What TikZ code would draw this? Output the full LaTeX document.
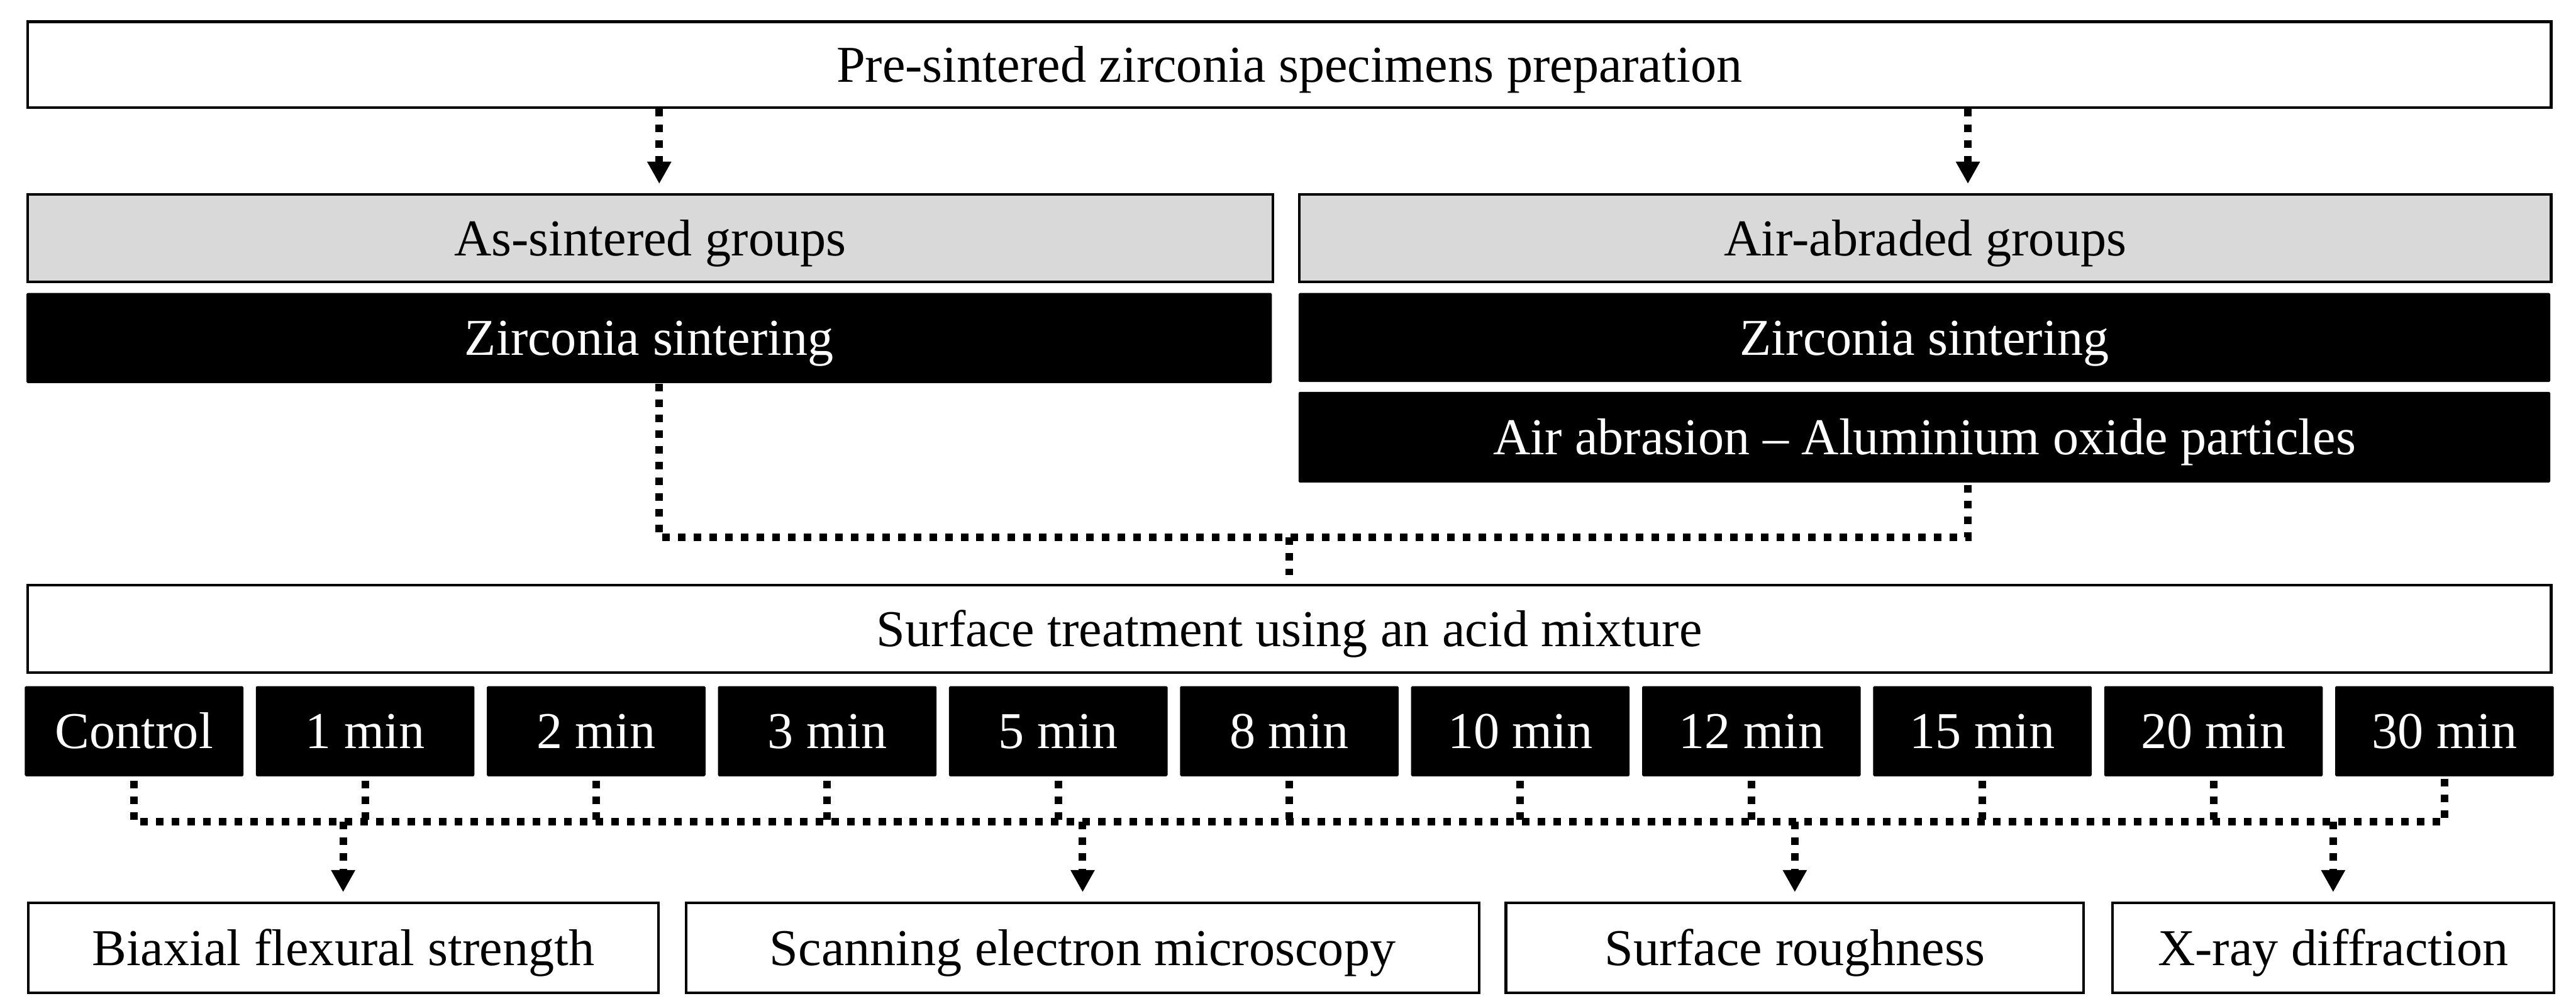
\documentclass[tikz,border=0pt]{standalone}
\usepackage{fontspec}
\setmainfont{Liberation Serif}
\usetikzlibrary{arrows.meta, positioning}

\begin{document}
\begin{tikzpicture}[
    font=\fontsize{25.3}{30}\selectfont,
    plainbox/.style={
        draw,
        line width=0.045cm,
        fill=white,
        inner sep=0pt,
        anchor=north west,
        text height=0.6cm,
        text depth=0pt,
        minimum height=1.5cm
    },
    greybox/.style={
        plainbox,
        fill=black!15
    },
    darkbox/.style={
        fill=black,
        text=white,
        rounded corners=0.02cm,
        inner sep=0pt,
        anchor=north west,
        text height=0.6cm,
        text depth=0pt,
        minimum height=1.55cm
    },
    timebox/.style={
        darkbox,
        minimum width=3.76cm
    },
    flow/.style={
        line width=0.13cm,
        dash pattern=on 0.13cm off 0.14cm
    },
    flowarrow/.style={
        flow,
        -{Triangle[length=0.38cm, width=0.39cm]},
        shorten >=0.16cm
    }
]
\useasboundingbox (0,0) rectangle (44.31,-17.21);

% preparation and the two groups
\node[plainbox, minimum width=43.41cm, minimum height=1.48cm] (prep) at (0.45,-0.35) {Pre-sintered zirconia specimens preparation};

\node[greybox, minimum width=21.42cm] (asgrp) at (0.45,-3.32) {As-sintered groups};
\node[greybox, minimum width=21.53cm] (abgrp) at (22.33,-3.32) {Air-abraded groups};

\node[darkbox, minimum width=21.42cm] (sinterA) at (0.45,-5.03) {Zirconia sintering};
\node[darkbox, minimum width=21.53cm, minimum height=1.53cm] (sinterB) at (22.33,-5.03) {Zirconia sintering};
\node[darkbox, minimum width=21.53cm, minimum height=1.56cm] (abras) at (22.33,-6.73) {Air abrasion -- Aluminium oxide particles};

% acid treatment and times
\node[plainbox, minimum width=43.41cm] (surf) at (0.45,-10.04) {Surface treatment using an acid mixture};

\node[timebox] (t0) at (0.42,-11.79) {Control};
\node[timebox, right=0.2cm of t0] (t1) {1 min};
\node[timebox, right=0.2cm of t1] (t2) {2 min};
\node[timebox, right=0.2cm of t2] (t3) {3 min};
\node[timebox, right=0.2cm of t3] (t4) {5 min};
\node[timebox, right=0.2cm of t4] (t5) {8 min};
\node[timebox, right=0.2cm of t5] (t6) {10 min};
\node[timebox, right=0.2cm of t6] (t7) {12 min};
\node[timebox, right=0.2cm of t7] (t8) {15 min};
\node[timebox, right=0.2cm of t8] (t9) {20 min};
\node[timebox, right=0.2cm of t9] (t10) {30 min};

% analyses
\node[plainbox, minimum width=10.84cm, minimum height=1.55cm] (bfs) at (0.46,-15.50) {Biaxial flexural strength};
\node[plainbox, minimum width=13.64cm, minimum height=1.55cm] (sem) at (11.78,-15.50) {Scanning electron microscopy};
\node[plainbox, minimum width=9.94cm, minimum height=1.55cm] (rough) at (25.88,-15.50) {Surface roughness};
\node[plainbox, minimum width=7.60cm, minimum height=1.55cm] (xrd) at (36.31,-15.50) {X-ray diffraction};

% connectors
\coordinate (colA) at (11.34,0);
\coordinate (colB) at (33.85,0);
\coordinate[above=0.80cm of surf.north] (merge);
\coordinate[below=0.77cm of t0.south] (tl);

\draw[flowarrow] (prep.south -| colA) -- (asgrp.north -| colA);
\draw[flowarrow] (prep.south -| colB) -- (abgrp.north -| colB);

\draw[flow] (sinterA.south -| colA) |- (merge) -| (abras.south -| colB);
\draw[flow, shorten >=0.15cm] (merge) -- (surf.north);

\draw[flow, shorten <=0.07cm] (t0.south) -- (tl) -- (tl -| t10.south) -- (t10.south);
\draw[flow, shorten <=0.07cm] (t1.south) -- (t1.south |- tl);
\draw[flow, shorten <=0.07cm] (t2.south) -- (t2.south |- tl);
\draw[flow, shorten <=0.07cm] (t3.south) -- (t3.south |- tl);
\draw[flow, shorten <=0.07cm] (t4.south) -- (t4.south |- tl);
\draw[flow, shorten <=0.07cm] (t5.south) -- (t5.south |- tl);
\draw[flow, shorten <=0.07cm] (t6.south) -- (t6.south |- tl);
\draw[flow, shorten <=0.07cm] (t7.south) -- (t7.south |- tl);
\draw[flow, shorten <=0.07cm] (t8.south) -- (t8.south |- tl);
\draw[flow, shorten <=0.07cm] (t9.south) -- (t9.south |- tl);

\draw[flowarrow] (tl -| bfs.north) -- (bfs.north);
\draw[flowarrow] (tl -| sem.north) -- (sem.north);
\draw[flowarrow] (tl -| rough.north) -- (rough.north);
\draw[flowarrow] (tl -| xrd.north) -- (xrd.north);

\end{tikzpicture}
\end{document}
